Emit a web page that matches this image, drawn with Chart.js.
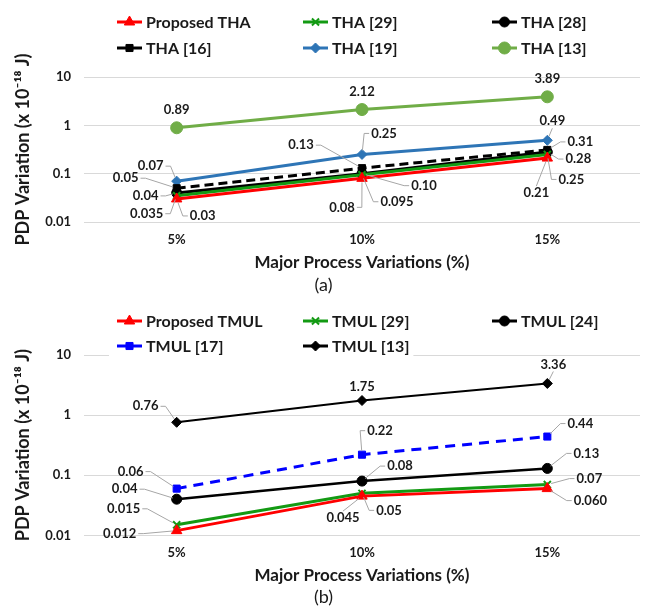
<!DOCTYPE html>
<html>
<head>
<meta charset="utf-8">
<script src="https://cdn.jsdelivr.net/npm/chart.js@4.4.1/dist/chart.umd.min.js"></script>
<style>
  html, body { margin: 0; padding: 0; background: #fff; overflow: hidden; }
  #wrap { position: relative; width: 647px; height: 606px; }
  .box { position: absolute; left: 0; width: 647px; }
  #boxA { top: 0; height: 300px; }
  #boxB { top: 300px; height: 308px; }
</style>
</head>
<body>
<div id="wrap">
  <div class="box" id="boxA"><canvas id="chartA"></canvas></div>
  <div class="box" id="boxB"><canvas id="chartB"></canvas></div>
</div>
<script>
const categories = ['5%', '10%', '15%'];
const yTicks = [0.01, 0.1, 1, 10];

// (a) THA
const thaProposed = [0.03, 0.08, 0.21];
const tha29 = [0.035, 0.095, 0.25];
const tha28 = [0.04, 0.10, 0.28];
const tha16 = [0.05, 0.13, 0.31];
const tha19 = [0.07, 0.25, 0.49];
const tha13 = [0.89, 2.12, 3.89];

// (b) TMUL
const tmulProposed = [0.012, 0.045, 0.060];
const tmul29 = [0.015, 0.05, 0.07];
const tmul24 = [0.04, 0.08, 0.13];
const tmul17 = [0.06, 0.22, 0.44];
const tmul13 = [0.76, 1.75, 3.36];

const FONT = 'Lato, "Open Sans", sans-serif';
const TEXT = '#1a1a1a';

function series(label, data, color, style, radius, extra) {
  return Object.assign({
    label: label,
    data: data,
    borderColor: color,
    backgroundColor: color,
    pointStyle: style,
    pointRadius: radius,
    pointHoverRadius: radius,
    pointBorderWidth: 1,
    borderWidth: 3,
    tension: 0,
    fill: false
  }, extra);
}

// value labels with leader lines, offsets are label centre minus point
const dataLabels = {
  id: 'dataLabels',
  afterDatasetsDraw(chart) {
    const ctx = chart.ctx;
    ctx.save();
    ctx.font = 'bold 13px ' + FONT;
    ctx.textAlign = 'center';
    ctx.textBaseline = 'middle';
    chart.data.datasets.forEach((ds, i) => {
      const meta = chart.getDatasetMeta(i);
      meta.data.forEach((pt, j) => {
        const off = ds.dl.offsets[j];
        const dx = off[0], dy = off[1];
        const v = ds.data[j];
        const text = ds.dl.decimals ? v.toFixed(ds.dl.decimals) : String(v);
        const cx = pt.x + dx, cy = pt.y + dy;
        const w = ctx.measureText(text).width, h = 12;
        if (Math.abs(dx) >= 4) {
          let ax, ay, sx, sy;
          const left = cx - w / 2, right = cx + w / 2;
          if (left > pt.x + 3) { ax = left - 2; sx = ax - 5; ay = sy = cy; }
          else if (right < pt.x - 3) { ax = right + 2; sx = ax + 5; ay = sy = cy; }
          else { ax = sx = cx; ay = sy = dy < 0 ? cy + h / 2 + 1 : cy - h / 2 - 1; }
          const vx = pt.x - sx, vy = pt.y - sy, len = Math.hypot(vx, vy) || 1;
          const ex = pt.x - vx / len * 4, ey = pt.y - vy / len * 4;
          ctx.strokeStyle = '#a6a6a6';
          ctx.lineWidth = 1;
          ctx.beginPath();
          ctx.moveTo(ax, ay);
          ctx.lineTo(sx, sy);
          ctx.lineTo(ex, ey);
          ctx.stroke();
        }
        ctx.fillStyle = TEXT;
        ctx.fillText(text, cx, cy);
      });
    });
    ctx.restore();
  }
};

// legend drawn in two rows of three
const gridLegend = {
  id: 'gridLegend',
  afterDraw(chart, args, opts) {
    const ctx = chart.ctx;
    ctx.save();
    ctx.font = 'bold 16px ' + FONT;
    ctx.textBaseline = 'middle';
    ctx.textAlign = 'left';
    const rows = [];
    chart.data.datasets.forEach((ds, i) => {
      const r = Math.floor(i / 3), c = i % 3;
      const x = opts.cols[c], y = opts.rows[r];
      const tw = ctx.measureText(ds.label).width;
      if (!rows[r]) rows[r] = { x0: x, x1: x, y: y };
      rows[r].x1 = x + 29 + tw;
    });
    rows.forEach(r => {
      ctx.fillStyle = '#fff';
      ctx.fillRect(r.x0 - 8, r.y - 12, r.x1 - r.x0 + 12, 24);
    });
    chart.data.datasets.forEach((ds, i) => {
      const r = Math.floor(i / 3), c = i % 3;
      const x = opts.cols[c], y = opts.rows[r];
      ctx.strokeStyle = ds.borderColor;
      ctx.lineWidth = 3;
      ctx.setLineDash([]);
      ctx.beginPath();
      ctx.moveTo(x, y);
      ctx.lineTo(x + 25, y);
      ctx.stroke();
      ctx.fillStyle = ds.backgroundColor;
      ctx.lineWidth = ds.pointBorderWidth;
      Chart.helpers.drawPoint(ctx, {
        pointStyle: ds.pointStyle, rotation: 0,
        radius: ds.pointRadius, borderWidth: ds.pointBorderWidth
      }, x + 12.5, y);
      ctx.fillStyle = TEXT;
      ctx.fillText(ds.label, x + 29, y + 1);
    });
    ctx.restore();
  }
};

function makeChart(id, datasets, opt) {
  return new Chart(document.getElementById(id), {
    type: 'line',
    data: { labels: categories, datasets: datasets },
    plugins: [dataLabels, gridLegend],
    options: {
      responsive: true,
      maintainAspectRatio: false,
      animation: false,
      layout: { padding: { top: opt.top, right: 0, bottom: 0, left: 0 } },
      plugins: {
        legend: { display: false },
        tooltip: { enabled: false },
        title: {
          display: true, position: 'bottom', text: opt.caption, color: TEXT,
          font: { family: FONT, size: 18, weight: 'normal' },
          padding: opt.captionPad
        },
        gridLegend: { cols: [117, 303, 492], rows: opt.legendRows }
      },
      scales: {
        x: {
          offset: true,
          grid: { display: false, drawTicks: false },
          border: { display: false },
          ticks: { padding: 10, color: TEXT, font: { family: FONT, size: 13, weight: 'bold' } },
          title: {
            display: true, text: 'Major Process Variations (%)', color: TEXT,
            font: { family: FONT, size: 17, weight: 'bold' },
            padding: { top: 0, bottom: 1 }
          },
          afterFit: s => { s.height = opt.xHeight; }
        },
        y: {
          type: 'logarithmic',
          min: 0.01,
          max: 10,
          afterBuildTicks: s => { s.ticks = yTicks.map(v => ({ value: v })); },
          grid: { color: '#d9d9d9', lineWidth: 1, drawTicks: false },
          border: { display: false },
          ticks: {
            padding: 13, color: TEXT,
            font: { family: FONT, size: 13, weight: 'bold' },
            callback: v => String(v)
          },
          title: {
            display: true, text: 'PDP Variation (x 10\u207B\u00B9\u2078 J)', color: TEXT,
            font: { family: FONT, size: 18, weight: 'bold' },
            padding: { top: 12, bottom: 0 }
          },
          afterFit: s => { s.width = 84; }
        }
      }
    }
  });
}

makeChart('chartA', [
  series('Proposed THA', thaProposed, '#ff0000', 'triangle', 6,
    { dl: { offsets: [[26, 17], [-20, 29], [-11, 35]], decimals: 2 } }),
  series('THA [29]', tha29, '#139a13', 'crossRot', 5,
    { pointBorderWidth: 2, dl: { offsets: [[-30, 18], [35, 27], [24, 25]] } }),
  series('THA [28]', tha28, '#000000', 'circle', 5,
    { dl: { offsets: [[-31, 3], [62, 12], [31, 7]], decimals: 2 } }),
  series('THA [16]', tha16, '#000000', 'rect', 5,
    { borderDash: [9, 5], dl: { offsets: [[-51, -10], [-61, -23], [33, -8]], decimals: 2 } }),
  series('THA [19]', tha19, '#2e75b6', 'rectRot', 5,
    { dl: { offsets: [[-26, -15], [22, -21], [5, -19]], decimals: 2 } }),
  series('THA [13]', tha13, '#70ad47', 'circle', 6,
    { dl: { offsets: [[0, -18], [0, -18], [0, -18]], decimals: 2 } })
], { top: 77, xHeight: 52, caption: '(a)', captionPad: { top: 0, bottom: 4.4 }, legendRows: [22, 48] });

makeChart('chartB', [
  series('Proposed TMUL', tmulProposed, '#ff0000', 'triangle', 6,
    { dl: { offsets: [[-57, 3], [-19, 22], [43, 12]], decimals: 3 } }),
  series('TMUL [29]', tmul29, '#139a13', 'crossRot', 5,
    { pointBorderWidth: 2, dl: { offsets: [[-53, -16], [27, 17], [42, -6]] } }),
  series('TMUL [24]', tmul24, '#000000', 'circle', 5,
    { borderWidth: 2.5, dl: { offsets: [[-52, -10], [38, -15], [39, -15]], decimals: 2 } }),
  series('TMUL [17]', tmul17, '#0000ff', 'rect', 5,
    { borderDash: [10, 7], dl: { offsets: [[-46, -17], [18, -24], [33, -13]], decimals: 2 } }),
  series('TMUL [13]', tmul13, '#000000', 'rectRot', 5,
    { borderWidth: 2, dl: { offsets: [[-31, -16], [0, -14], [6, -19]], decimals: 2 } })
], { top: 55, xHeight: 51, caption: '(b)', captionPad: { top: 0, bottom: 0 }, legendRows: [21, 46] });
</script>
</body>
</html>
